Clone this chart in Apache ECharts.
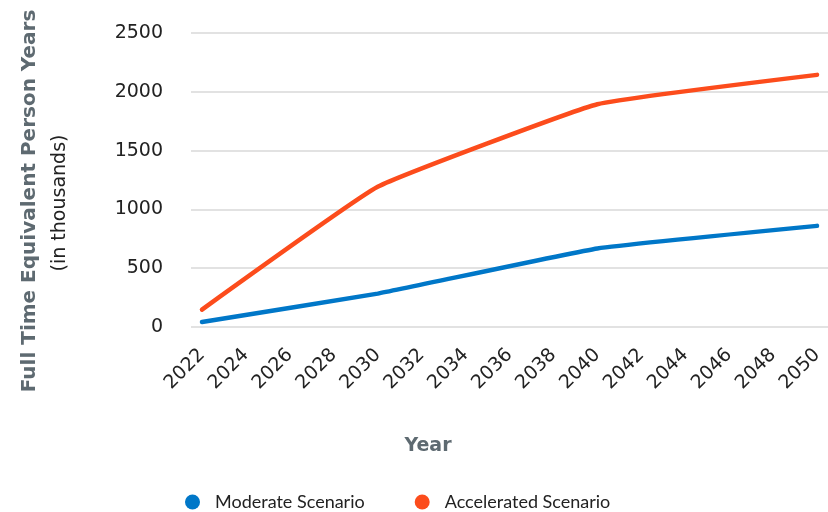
<!DOCTYPE html>
<html>
<head>
<meta charset="utf-8">
<script src="https://cdn.jsdelivr.net/npm/echarts@6/dist/echarts.min.js"></script>
<style>html,body{margin:0;padding:0;background:#fff}#c{width:828px;height:512px}</style>
</head>
<body>
<div id="c"></div>
<script>
const years = [];
for (let y = 2022; y <= 2050; y++) years.push(String(y));
const keyYears = ['2022', '2030', '2040', '2050'];
const moderate = [43, 284, 668, 860];
const accelerated = [148, 1192, 1894, 2144];
const yTicks = [0, 500, 1000, 1500, 2000, 2500];

function toSeries(vals) {
  return years.map(y => {
    const i = keyYears.indexOf(y);
    return i >= 0 ? vals[i] : null;
  });
}

const TICKFONT = 'DejaVu Sans';
const FONT = 'Lato';
const chart = echarts.init(document.getElementById('c'));
chart.setOption({
  animation: false,
  textStyle: { fontFamily: FONT },
  grid: { left: 191, right: 0, top: 33, bottom: 185 },
  legend: {
    left: 180, top: 488,
    icon: 'circle', itemWidth: 15, itemHeight: 15, itemGap: 50,
    textStyle: { fontSize: 18, color: '#222', fontFamily: FONT, padding: [0, 0, 0, 10] },
    data: ['Moderate Scenario', 'Accelerated Scenario']
  },
  graphic: [
    { type: 'text', x: 428, y: 446,
      style: { text: 'Year', fontSize: 19, fontWeight: 'bold', fill: '#5e6a71', fontFamily: TICKFONT,
        align: 'center', verticalAlign: 'middle' } },
    { type: 'text', x: 30, y: 201, rotation: Math.PI / 2,
      style: { text: 'Full Time Equivalent Person Years', fontSize: 20, fontWeight: 'bold', fill: '#5e6a71',
        fontFamily: TICKFONT, align: 'center', verticalAlign: 'middle' } },
    { type: 'text', x: 60, y: 203, rotation: Math.PI / 2,
      style: { text: '(in thousands)', fontSize: 19, fill: '#222',
        fontFamily: TICKFONT, align: 'center', verticalAlign: 'middle' } }
  ],
  xAxis: {
    type: 'category', data: years, boundaryGap: true,
    axisLine: { show: false }, axisTick: { show: false },
    axisLabel: { interval: 1, rotate: 45, fontSize: 19, color: '#222', margin: 25, fontFamily: TICKFONT }
  },
  yAxis: {
    type: 'value', min: 0, max: 2500, interval: 500,
    axisLabel: { fontSize: 19, color: '#222', margin: 28, fontFamily: TICKFONT,
      formatter: v => yTicks.includes(v) ? String(v) : '' },
    splitLine: { lineStyle: { color: '#d9d9d9', width: 1.5 } }
  },
  series: [
    { name: 'Moderate Scenario', type: 'line', data: toSeries(moderate), connectNulls: true,
      smooth: 0.1, showSymbol: false, symbol: 'circle', color: '#0077c8',
      lineStyle: { width: 4.5, color: '#0077c8', cap: 'round' } },
    { name: 'Accelerated Scenario', type: 'line', data: toSeries(accelerated), connectNulls: true,
      smooth: 0.1, showSymbol: false, symbol: 'circle', color: '#fc4c1c',
      lineStyle: { width: 4.5, color: '#fc4c1c', cap: 'round' } }
  ]
});
</script>
</body>
</html>
